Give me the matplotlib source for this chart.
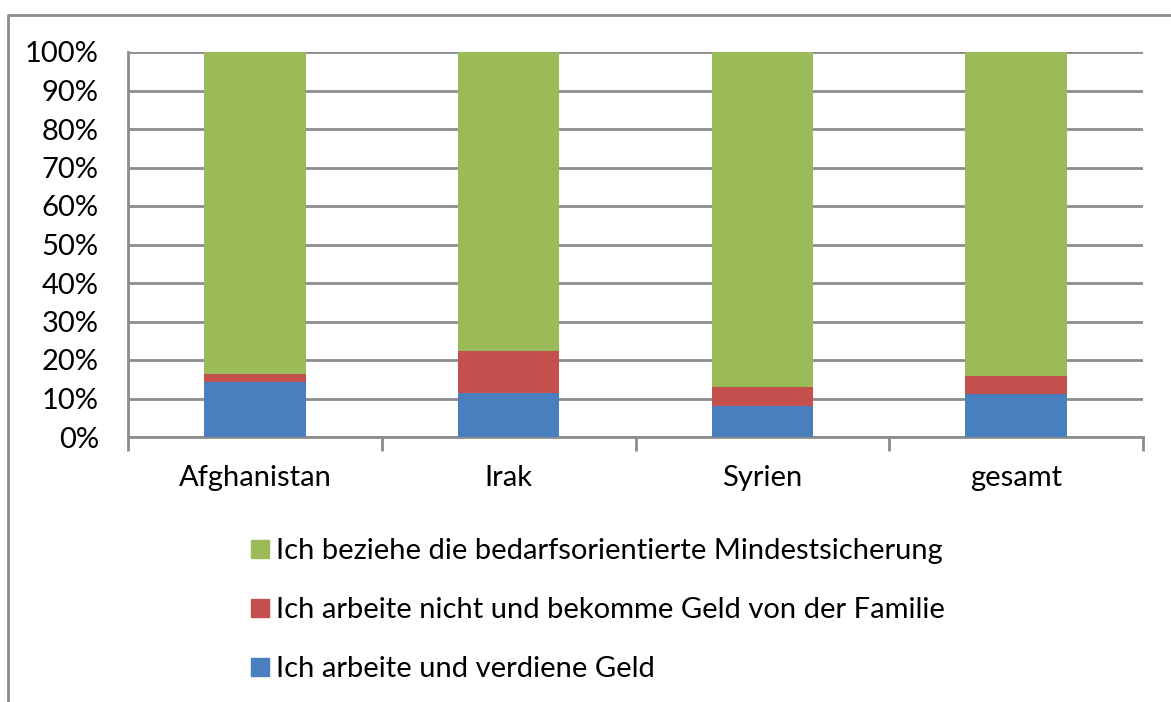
import matplotlib
matplotlib.use("Agg")
import matplotlib.pyplot as plt
import matplotlib.patches as mpatches
from matplotlib.ticker import MultipleLocator, PercentFormatter, FixedLocator

plt.rcParams['font.family'] = ['Lato', 'DejaVu Sans']

# data (shares in %)
countries = ["Afghanistan", "Irak", "Syrien", "gesamt"]
arbeite = [14.4, 11.3, 8.0, 11.1]
familie = [1.9, 11.1, 5.0, 4.8]
mindest = [83.7, 77.6, 87.0, 84.1]

labels = ["Ich arbeite und verdiene Geld",
          "Ich arbeite nicht und bekomme Geld von der Familie",
          "Ich beziehe die bedarfsorientierte Mindestsicherung"]
colors = ["#4A7FBF", "#C4504D", "#9BBB59"]

fig = plt.figure(figsize=(11.71, 7.02), dpi=100)
ax = fig.add_axes([128 / 1171, 1 - 437 / 702, (1143 - 128) / 1171, (437 - 52) / 702])

x = list(range(len(countries)))
bottoms = [0.0] * len(countries)
for vals, lab, col in zip([arbeite, familie, mindest], labels, colors):
    ax.bar(x, vals, width=0.4, bottom=bottoms, color=col, label=lab, zorder=3)
    bottoms = [bt + v for bt, v in zip(bottoms, vals)]

ax.set_xlim(-0.5, len(countries) - 0.5)
ax.set_ylim(0, 100)
ax.yaxis.set_major_locator(MultipleLocator(10))
ax.yaxis.set_major_formatter(PercentFormatter(decimals=0))
ax.grid(axis='y', color='#8C8C8C', lw=2, zorder=0)

ax.set_xticks(x)
ax.set_xticklabels(countries)
ax.xaxis.set_minor_locator(FixedLocator([i - 0.5 for i in range(len(countries) + 1)]))
ax.tick_params(axis='x', which='major', length=0, pad=20, labelsize=21)
ax.tick_params(axis='x', which='minor', length=10, width=2, color='#8C8C8C')
ax.tick_params(axis='y', length=0, pad=21, labelsize=21)

for s in ['top', 'right']:
    ax.spines[s].set_visible(False)
for s in ['left', 'bottom']:
    ax.spines[s].set_color('#8C8C8C')
    ax.spines[s].set_linewidth(2)

# outer chart frame
frame = plt.Line2D([8 / 1171, 8 / 1171, 1.0], [0.0, 1 - 15 / 702, 1 - 15 / 702],
                   transform=fig.transFigure, color='#8C8C8C', lw=2)
fig.add_artist(frame)

leg_handles = [mpatches.Patch(color=c) for c in colors[::-1]]
fig.legend(leg_handles, labels[::-1], loc='upper left',
           bbox_to_anchor=(225 / 1171, 1 - 512 / 702), frameon=False,
           fontsize=21, handlelength=0.6, handleheight=0.6, handletextpad=0.25,
           labelspacing=1.13)

fig.savefig("out.png", dpi=100)
